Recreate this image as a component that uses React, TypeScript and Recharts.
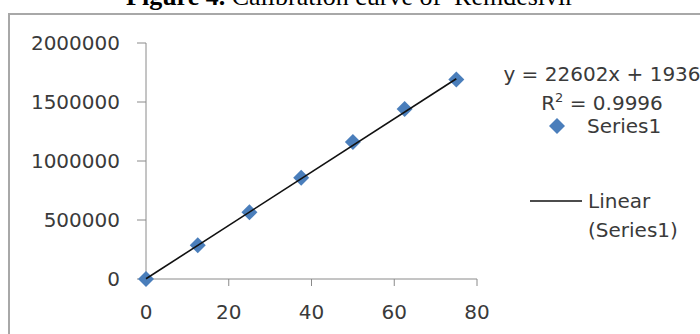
import React from "react";
import { ScatterChart, Scatter, XAxis, YAxis } from "recharts";

// calibration data (concentration vs. peak area)
const concentrations = [0, 12.5, 25, 37.5, 50, 62.5, 75];
const peakAreas = [0, 285000, 565000, 858000, 1160000, 1440000, 1690000];

const xTicks = [0, 20, 40, 60, 80];
const yTicks = [0, 500000, 1000000, 1500000, 2000000];

// Excel linear trendline
const SLOPE = 22602;
const INTERCEPT = 1936;
const R2 = "0.9996";

const points = concentrations.map((x, i) => ({ x, y: peakAreas[i] }));
const trendXs = [concentrations[0], concentrations[concentrations.length - 1]];
const trend = trendXs.map((x) => ({ x, y: SLOPE * x + INTERCEPT }));

const BLUE = "#4a7ebb";
const AXIS = "#8a8a8a";
const FONT = "'DejaVu Sans', sans-serif";

const Diamond = (props: any) => {
  const { cx, cy } = props;
  const r = 8;
  return (
    <path
      d={`M${cx},${cy - r} L${cx + r},${cy} L${cx},${cy + r} L${cx - r},${cy} Z`}
      fill={BLUE}
    />
  );
};

const NoShape = () => <g />;

export default function App() {
  const tick = { fontSize: 20, fill: "#3a3a3a", fontFamily: FONT };
  return (
    <div
      style={{
        position: "fixed",
        left: 0,
        top: 0,
        width: 700,
        height: 334,
        overflow: "hidden",
        background: "#fff",
      }}
    >
      <div
        style={{
          position: "absolute",
          left: 0,
          top: -18,
          width: 700,
          textAlign: "center",
          fontFamily: "'Liberation Serif', 'Times New Roman', serif",
          fontSize: 26,
          lineHeight: "30px",
          whiteSpace: "pre",
          color: "#000",
        }}
      >
        <b>Figure 4.</b> Calibration curve of  Remdesivir
      </div>
      <div
        style={{
          position: "absolute",
          left: 8,
          top: 13,
          width: 720,
          height: 360,
          border: "2px solid #a8a8a8",
        }}
      />
      <div style={{ position: "absolute", left: 0, top: 0 }}>
        <ScatterChart
          width={700}
          height={334}
          margin={{ top: 43, right: 223, bottom: 0, left: 0 }}
        >
          <XAxis
            type="number"
            dataKey="x"
            domain={[0, 80]}
            ticks={xTicks}
            height={55}
            tickSize={7}
            tickMargin={19}
            stroke={AXIS}
            tick={tick}
            tickLine={{ stroke: AXIS }}
          />
          <YAxis
            type="number"
            dataKey="y"
            domain={[0, 2000000]}
            ticks={yTicks}
            width={146}
            tickSize={9}
            tickMargin={17}
            stroke={AXIS}
            tick={tick}
            tickLine={{ stroke: AXIS }}
          />
          <Scatter
            data={points}
            shape={<Diamond />}
            isAnimationActive={false}
          />
          <Scatter
            data={trend}
            line={{ stroke: "#111", strokeWidth: 1.6 }}
            shape={NoShape}
            isAnimationActive={false}
          />
        </ScatterChart>
      </div>
      <svg
        width={700}
        height={334}
        style={{ position: "absolute", left: 0, top: 0, pointerEvents: "none" }}
        fontFamily={FONT}
        fontSize={20}
        fill="#3a3a3a"
      >
        <text x={602} y={81} textAnchor="middle">
          {`y = ${SLOPE}x + ${INTERCEPT}`}
        </text>
        <text x={602} y={110} textAnchor="middle">
          R<tspan dy={-8} fontSize={13}>2</tspan>
          <tspan dy={8}>{` = ${R2}`}</tspan>
        </text>
        <path d="M557,118 L565,126 L557,134 L549,126 Z" fill={BLUE} />
        <text x={587} y={133}>Series1</text>
        <line x1={530} y1={201} x2={582} y2={201} stroke="#111" strokeWidth={1.6} />
        <text x={588} y={208}>Linear</text>
        <text x={588} y={237}>(Series1)</text>
      </svg>
    </div>
  );
}
